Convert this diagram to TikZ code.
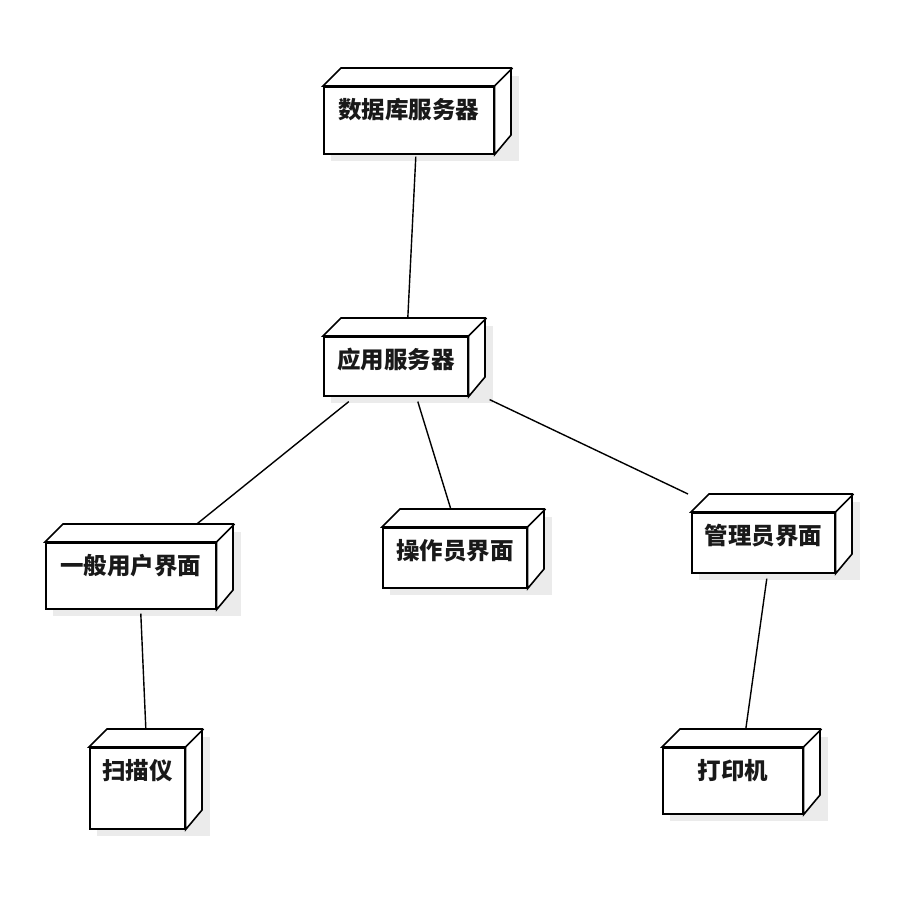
\documentclass[tikz,border=0pt]{standalone}
\usepackage{fontspec}
\newfontfamily\cjk{Noto Sans CJK SC}
\usetikzlibrary{calc}

\tikzset{
  front/.style={draw=black, line width=1.6pt, fill=white, inner sep=0pt, anchor=north west},
  face/.style={draw=black, line width=1.6pt, line join=miter, fill=white},
  dropshadow/.style={fill=black!8, draw=none},
  lbl/.style={font=\cjk\bfseries\fontsize{23.5}{25}\selectfont, text=black!90, inner sep=0pt},
  link/.style={draw=black, line width=1.4pt},
}

% \devbox{name}{left}{top}{width}{height}{label}: a 3D deployment node with a soft shadow
\newcommand\devbox[6]{%
  \path[dropshadow] (#2+8,#3-10) rectangle (#2+#4+26,#3+#5+8);
  \node[front, minimum width=#4pt, minimum height=#5pt] (#1) at (#2,#3) {};
  \path[face] (#1.north west) -- ++(18pt,18pt) -- ++(#4pt,0pt) -- ++(0pt,-#5pt) -- (#1.south east) -- (#1.north east) -- cycle;
  \draw[line width=1.6pt] (#1.north east) -- ++(18pt,18pt);
  \node[lbl] at ([yshift=-24pt]#1.north) {#6};
}

\begin{document}
\begin{tikzpicture}[x=1pt, y=-1pt]
\useasboundingbox (0,0) rectangle (900,900);

\devbox{db}{323}{86}{170}{67}{数据库服务器}
\devbox{app}{323}{336}{144}{59}{应用服务器}
\devbox{gen}{45}{542}{170}{66}{一般用户界面}
\devbox{op}{382}{527}{144}{60}{操作员界面}
\devbox{adm}{691}{512}{143}{60}{管理员界面}
\devbox{scan}{89}{747}{95}{81}{扫描仪}
\devbox{prn}{662}{747}{140}{66}{打印机}

\draw[link] ([xshift=7pt,yshift=-2pt]db.south) -- ([xshift=12pt,yshift=18pt]app.north);
\draw[link] ([xshift=-47pt,yshift=-5pt]app.south) -- ([xshift=66pt,yshift=18pt]gen.north);
\draw[link] ([xshift=22pt,yshift=-5pt]app.south) -- ([xshift=-4pt,yshift=18pt]op.north);
\draw[link] ([xshift=21pt,yshift=-3pt]app.south east) -- ([xshift=-3pt,yshift=18pt]adm.north west);
\draw[link] ([xshift=10pt,yshift=-4pt]gen.south) -- ([xshift=8.5pt,yshift=19pt]scan.north);
\draw[link] ([xshift=3.5pt,yshift=-5pt]adm.south) -- ([xshift=13pt,yshift=18pt]prn.north);
\end{tikzpicture}
\end{document}
